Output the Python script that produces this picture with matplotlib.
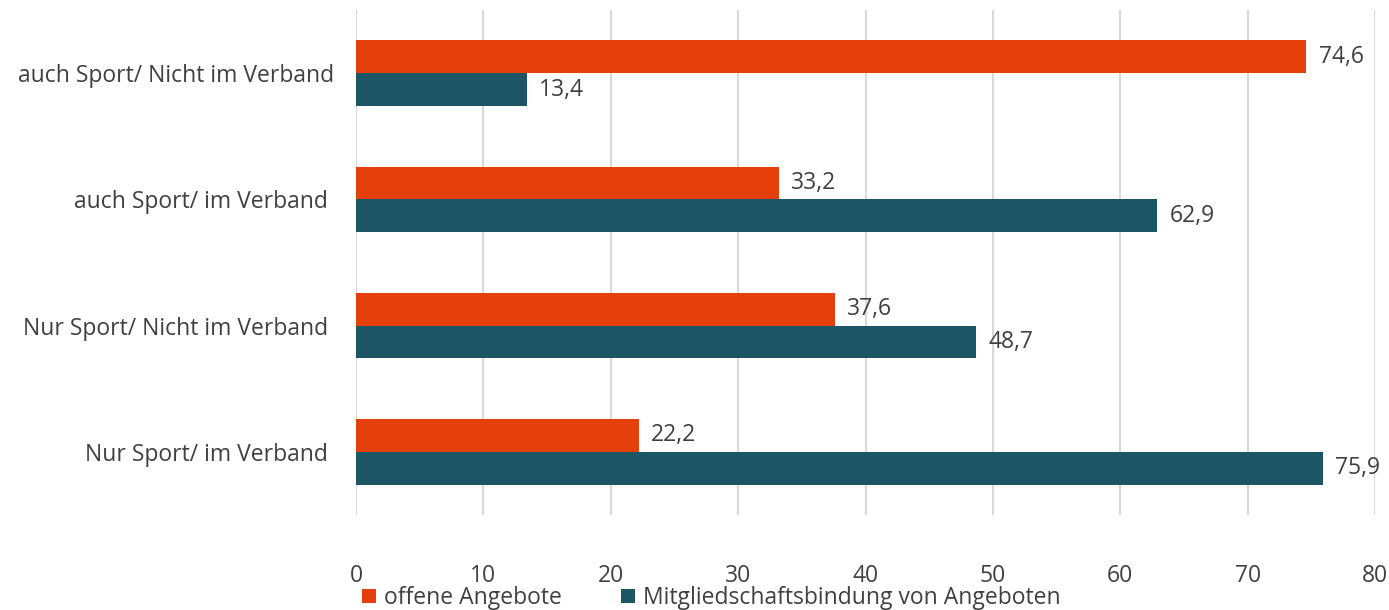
import matplotlib
matplotlib.use("Agg")
import matplotlib.pyplot as plt
import numpy as np

categories = ["auch Sport/ Nicht im Verband", "auch Sport/ im Verband ",
              "Nur Sport/ Nicht im Verband ", "Nur Sport/ im Verband "]
offene = [74.6, 33.2, 37.6, 22.2]
mitglied = [13.4, 62.9, 48.7, 75.9]
series_names = ["offene Angebote", "Mitgliedschaftsbindung von Angeboten"]
xticks = [0, 10, 20, 30, 40, 50, 60, 70, 80]

c_orange = "#E5400C"
c_teal = "#1B5566"
txt = "#404040"
fs = 16.5

plt.rcParams['font.family'] = ['Open Sans', 'DejaVu Sans']

fig = plt.figure(figsize=(13.89, 6.10), dpi=100)
ax = fig.add_axes([356/1389, 1-515/610, (1375-356)/1389, 505/610])

y = np.arange(len(categories))
h = 0.26
b1 = ax.barh(y - h/2, offene, height=h, color=c_orange, label=series_names[0])
b2 = ax.barh(y + h/2, mitglied, height=h, color=c_teal, label=series_names[1])

fmt = lambda v: f"{v:.1f}".replace(".", ",")
ax.bar_label(b1, labels=[fmt(v) for v in offene], padding=9, fontsize=fs, color=txt)
ax.bar_label(b2, labels=[fmt(v) for v in mitglied], padding=9, fontsize=fs, color=txt)

ax.set_ylim(len(categories) - 0.5, -0.5)
ax.set_xlim(0, 80)
ax.set_xticks(xticks)
ax.set_xticklabels([str(t) for t in xticks], fontsize=fs, color=txt)
ax.set_yticks(y)
ax.set_yticklabels(categories, fontsize=fs, color=txt)
ax.tick_params(axis='both', length=0)
ax.tick_params(axis='x', pad=35)
ax.tick_params(axis='y', pad=16)
ax.xaxis.grid(True, color="#D9D9D9", linewidth=1.5)
ax.set_axisbelow(True)
for s in ax.spines.values():
    s.set_visible(False)

fig.legend(handles=[b1, b2], labels=series_names, loc='center left',
           bbox_to_anchor=(362/1389, 1-598/610), ncol=2, frameon=False,
           fontsize=fs, labelcolor=txt, handlelength=0.6, handleheight=0.6,
           handletextpad=0.35, columnspacing=2.6, borderpad=0, borderaxespad=0)

fig.savefig("out.png", dpi=100)
